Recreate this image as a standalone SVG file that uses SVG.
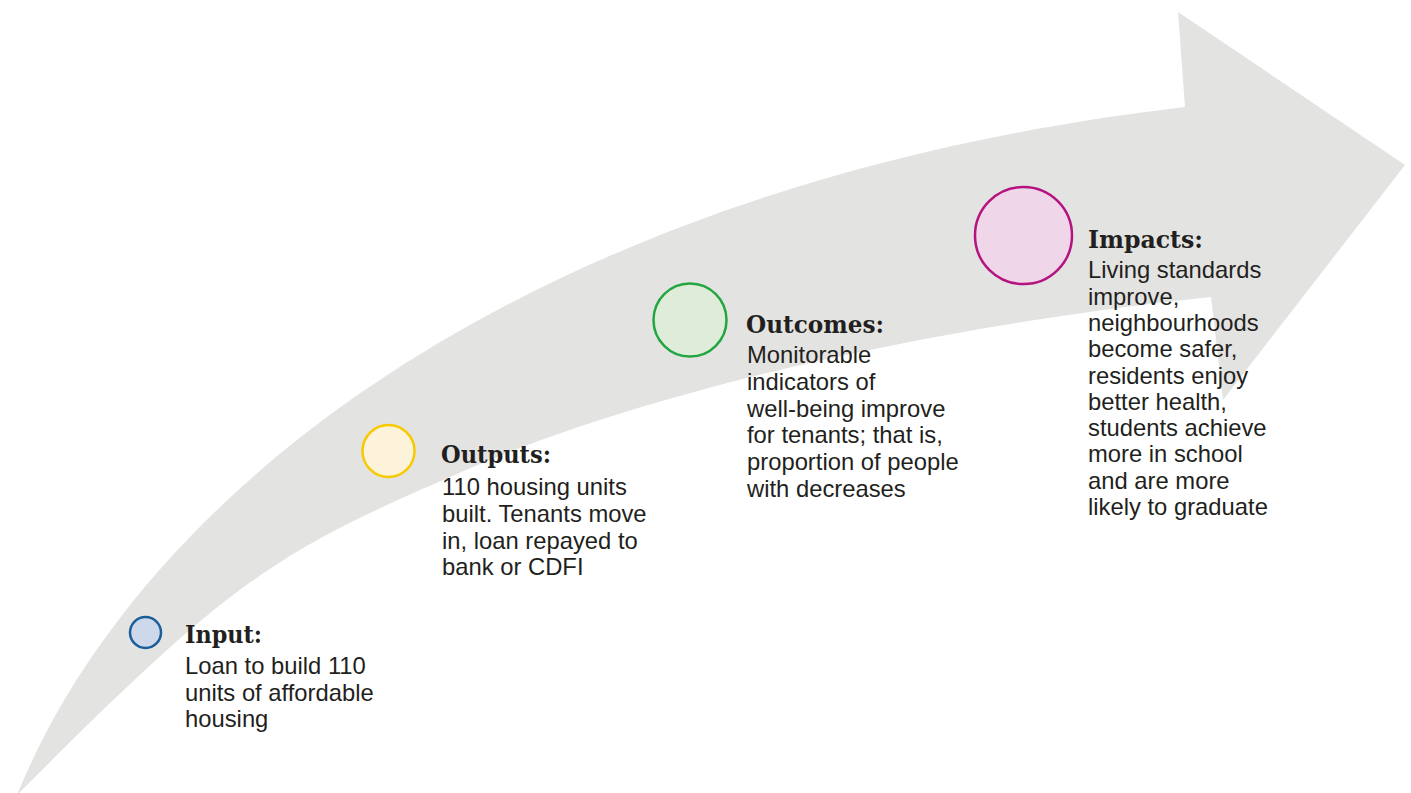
<svg xmlns="http://www.w3.org/2000/svg" width="1411" height="793" viewBox="0 0 1411 793">
<style>
.title{font-family:"DejaVu Serif","Liberation Serif",serif;font-weight:bold;font-size:24px;fill:#231f20}
.body{font-family:"Liberation Sans",Arial,sans-serif;font-size:23.8px;fill:#231f20}
.dot{stroke-width:2.5}
</style>
<rect width="1411" height="793" fill="#ffffff"/>
<g id="arrow">
<path d="M17 795 C150 470 560 180 1185 107 L1178 12 L1405 165 L1223 400 L1211 297 C900 330 620 400 450 477 C267 556 224 588 17 795 Z" fill="#e3e3e2"/>
</g>
<g id="input">
<circle class="dot" cx="145.5" cy="632.5" r="15.5" fill="#cdd9ea" stroke="#1a5e9a"/>
<text class="title" x="185" y="643" textLength="77" lengthAdjust="spacingAndGlyphs">Input:</text>
<text class="body" x="185" y="674">Loan to build 110</text>
<text class="body" x="185" y="700.7">units of affordable</text>
<text class="body" x="185" y="727.4">housing</text>
</g>
<g id="outputs">
<circle class="dot" cx="388.5" cy="451" r="26" fill="#fdf3da" stroke="#f7ca00"/>
<text class="title" x="441" y="463.3" textLength="110" lengthAdjust="spacingAndGlyphs">Outputs:</text>
<text class="body" x="442" y="495">110 housing units</text>
<text class="body" x="442" y="521.8">built. Tenants move</text>
<text class="body" x="442" y="548.6">in, loan repayed to</text>
<text class="body" x="442" y="575.4">bank or CDFI</text>
</g>
<g id="outcomes">
<circle class="dot" cx="690" cy="320" r="36.5" fill="#e0ecda" stroke="#22a640"/>
<text class="title" x="746" y="332.7" textLength="138" lengthAdjust="spacingAndGlyphs">Outcomes:</text>
<text class="body" x="747" y="363.3">Monitorable</text>
<text class="body" x="747" y="390">indicators of</text>
<text class="body" x="747" y="416.7">well-being improve</text>
<text class="body" x="747" y="443.4">for tenants; that is,</text>
<text class="body" x="747" y="470.1">proportion of people</text>
<text class="body" x="747" y="496.8">with decreases</text>
</g>
<g id="impacts">
<circle class="dot" cx="1023.5" cy="235.5" r="48.5" fill="#efd6e8" stroke="#b5137f"/>
<text class="title" x="1088" y="248.3" textLength="115" lengthAdjust="spacingAndGlyphs">Impacts:</text>
<text class="body" x="1088" y="278.3">Living standards</text>
<text class="body" x="1088" y="304.6">improve,</text>
<text class="body" x="1088" y="330.9">neighbourhoods</text>
<text class="body" x="1088" y="357.2">become safer,</text>
<text class="body" x="1088" y="383.5">residents enjoy</text>
<text class="body" x="1088" y="409.8">better health,</text>
<text class="body" x="1088" y="436.1">students achieve</text>
<text class="body" x="1088" y="462.4">more in school</text>
<text class="body" x="1088" y="488.7">and are more</text>
<text class="body" x="1088" y="515">likely to graduate</text>
</g>
</svg>
